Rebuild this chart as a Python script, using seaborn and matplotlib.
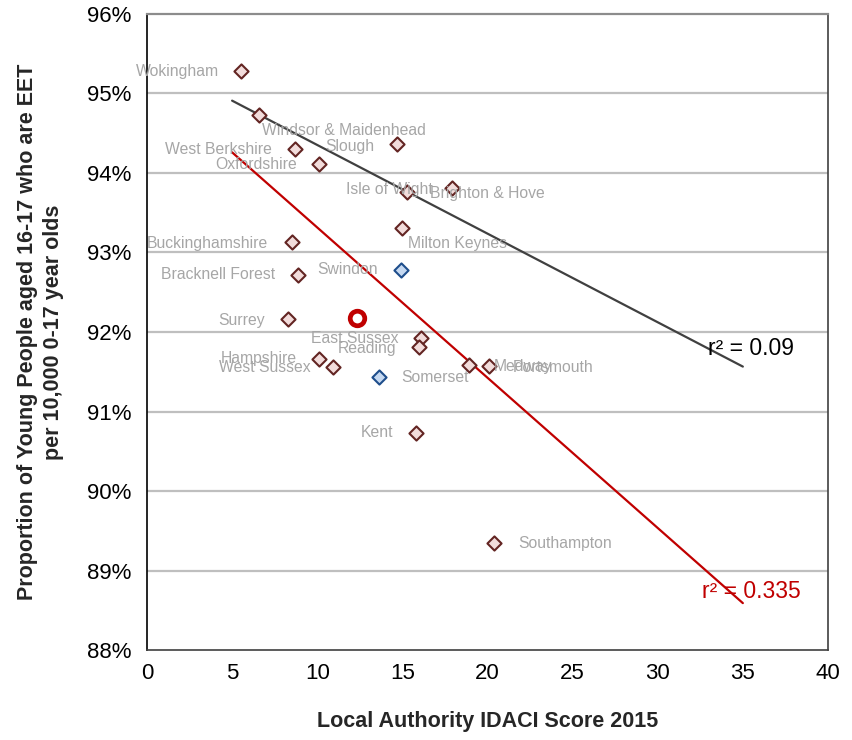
import numpy as np
import pandas as pd
import seaborn as sns
from matplotlib import pyplot as plt
from matplotlib import font_manager

# ---- data ----
authorities = ['Wokingham', 'Windsor & Maidenhead', 'West Berkshire', 'Oxfordshire', 'Slough',
               'Isle of Wight', 'Brighton & Hove', 'Milton Keynes', 'Buckinghamshire', 'Swindon',
               'Bracknell Forest', 'Surrey', 'East Sussex', 'Reading', 'Hampshire',
               'West Sussex', 'Medway', 'Portsmouth', 'Somerset', 'Kent', 'Southampton']
idaci = [5.5, 6.6, 8.7, 10.1, 14.7,
         15.3, 17.9, 15.0, 8.5, 14.9,
         8.9, 8.3, 16.1, 16.0, 10.1,
         10.9, 18.9, 20.1, 13.6, 15.8, 20.4]
eet = [95.28, 94.73, 94.30, 94.11, 94.36,
       93.76, 93.81, 93.31, 93.13, 92.78,
       92.72, 92.16, 91.92, 91.81, 91.66,
       91.56, 91.58, 91.57, 91.43, 90.73, 89.35]
group = ['se'] * 9 + ['comp'] + ['se'] * 8 + ['comp'] + ['se'] * 2

# highlighted authority (unlabelled circle)
highlight_x = [12.35]
highlight_y = [92.18]

# trend lines: start/end x, value at start, slope
trend_x = [5, 35]
black_start, black_slope = 94.91, -0.1115
red_start, red_slope = 94.26, -0.189
black_r2 = 'r² = 0.09'
red_r2 = 'r² = 0.335'

# label placement (offset in pixels from point, horizontal alignment)
label_pos = {
    'Wokingham': (-22, 0, 'right'), 'Windsor & Maidenhead': (3, -16, 'left'),
    'West Berkshire': (-23, 0, 'right'), 'Oxfordshire': (-22, 0, 'right'),
    'Slough': (-23, -2, 'right'), 'Isle of Wight': (25, 3, 'right'),
    'Brighton & Hove': (-22, -5, 'left'), 'Milton Keynes': (6, -16, 'left'),
    'Buckinghamshire': (-24, -1, 'right'), 'Swindon': (-23, 0, 'right'),
    'Bracknell Forest': (-23, 0, 'right'), 'Surrey': (-23, -1, 'right'),
    'East Sussex': (-23, 0, 'right'), 'Reading': (-23, -1, 'right'),
    'Hampshire': (-22, 1, 'right'), 'West Sussex': (-22, -1, 'right'),
    'Medway': (25, -1, 'left'), 'Portsmouth': (24, -1, 'left'),
    'Somerset': (23, 0, 'left'), 'Kent': (-23, 0, 'right'),
    'Southampton': (24, -1, 'left'),
}

df = pd.DataFrame({'name': authorities, 'idaci': idaci, 'eet': eet, 'group': group})

sns.set_style('white')
plt.rcParams['font.family'] = ['Liberation Sans', 'DejaVu Sans']

# axis titles in the reference use a condensed bold face
installed = {f.name for f in font_manager.fontManager.ttflist}
if 'Liberation Sans Narrow' in installed:
    title_font = dict(family='Liberation Sans Narrow', fontsize=18.5, fontweight='bold')
else:
    title_font = dict(family='Liberation Sans', fontsize=15.5, fontweight='bold')

fig = plt.figure(figsize=(8.52, 7.4), dpi=100)
ax = fig.add_axes([0.1725, 0.1216, 0.7993, 0.8595])

# gridlines
for yv in range(89, 96):
    ax.axhline(yv, color='#BFBFBF', lw=1.6, zorder=0)

# trend lines
tx = np.array(trend_x, dtype=float)
ax.plot(tx, black_start + black_slope * (tx - tx[0]), color='#404040', lw=1.6, zorder=2)
ax.plot(tx, red_start + red_slope * (tx - tx[0]), color='#C00000', lw=1.6, zorder=2)

styles = {'se': ('#F2DCDB', '#632523'), 'comp': ('#C6D9F1', '#1F4E8C')}
for g, (fc, ec) in styles.items():
    sub = df[df['group'] == g]
    sns.scatterplot(data=sub, x='idaci', y='eet', marker='D', s=52, color=fc,
                    edgecolor=ec, linewidth=1.5, ax=ax, zorder=3, legend=False)

sns.scatterplot(x=highlight_x, y=highlight_y, marker='o', s=110, color='white',
                edgecolor='#C00000', linewidth=3.4, ax=ax, zorder=4, legend=False)

for _, r in df.iterrows():
    dx, dy, ha = label_pos[r['name']]
    ax.annotate(r['name'], (r['idaci'], r['eet']), xytext=(dx * 0.72, dy * 0.72),
                textcoords='offset points', ha=ha, va='center', fontsize=11.3,
                color='#A6A6A6', zorder=5)

ax.text(35.5, 91.79, black_r2, fontsize=16.5, color='black', ha='center', va='center')
ax.text(35.5, 88.73, red_r2, fontsize=16.5, color='#C00000', ha='center', va='center')

ax.set_xlim(0, 40)
ax.set_ylim(88, 96)
ax.set_xticks(range(0, 41, 5))
ax.set_yticks(range(88, 97))
ax.set_yticklabels([f'{v}%' for v in range(88, 97)])
ax.tick_params(axis='both', direction='out', length=4, width=1, colors='black',
               labelsize=16)
ax.tick_params(axis='y', pad=7)
ax.tick_params(axis='x', pad=5)

ax.set_xlabel('Local Authority IDACI Score 2015', labelpad=20, **title_font)
ax.set_ylabel('Proportion of Young People aged 16-17 who are EET\nper 10,000 0-17 year olds',
              labelpad=17, linespacing=1.3, **title_font)

ax.spines['left'].set_color('black')
ax.spines['left'].set_linewidth(1.2)
ax.spines['bottom'].set_color('#404040')
ax.spines['bottom'].set_linewidth(1.2)
ax.spines['top'].set_color('#8C8C8C')
ax.spines['top'].set_linewidth(1.6)
ax.spines['right'].set_color('#404040')
ax.spines['right'].set_linewidth(1.2)

fig.savefig('out.png', dpi=100)
